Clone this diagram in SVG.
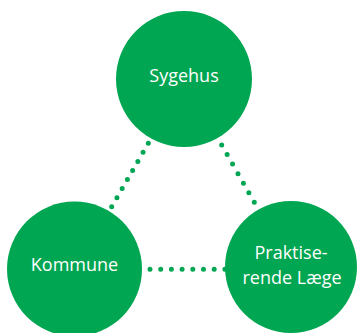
<svg xmlns="http://www.w3.org/2000/svg" width="358" height="333" viewBox="0 0 358 333">
<style>
.node{fill:#00A651}
.lbl{fill:#ffffff;font-family:"Open Sans","Noto Sans",sans-serif;font-size:18px;text-anchor:middle}
.dot{stroke:#00A651;stroke-width:5;stroke-linecap:round;fill:none}
</style>
<rect width="358" height="333" fill="#ffffff"/>
<g id="connectors">
<line class="dot" x1="148.3" y1="143.3" x2="111.2" y2="207.6" stroke-dasharray="0 10.46"/>
<line class="dot" x1="221.7" y1="145" x2="254.8" y2="203.2" stroke-dasharray="0 10.99"/>
<line class="dot" x1="150" y1="269.3" x2="226" y2="269.3" stroke-dasharray="0 10.7"/>
</g>
<g id="sygehus">
<circle class="node" cx="184" cy="79" r="68"/>
<text class="lbl" x="184" y="82">Sygehus</text>
</g>
<g id="kommune">
<circle class="node" cx="74.5" cy="269" r="67.5"/>
<text class="lbl" x="74.5" y="271">Kommune</text>
</g>
<g id="praktiserende">
<circle class="node" cx="291" cy="267" r="66"/>
<text class="lbl" x="291" y="259">Praktise-</text>
<text class="lbl" x="292" y="284">rende Læge</text>
</g>
</svg>
